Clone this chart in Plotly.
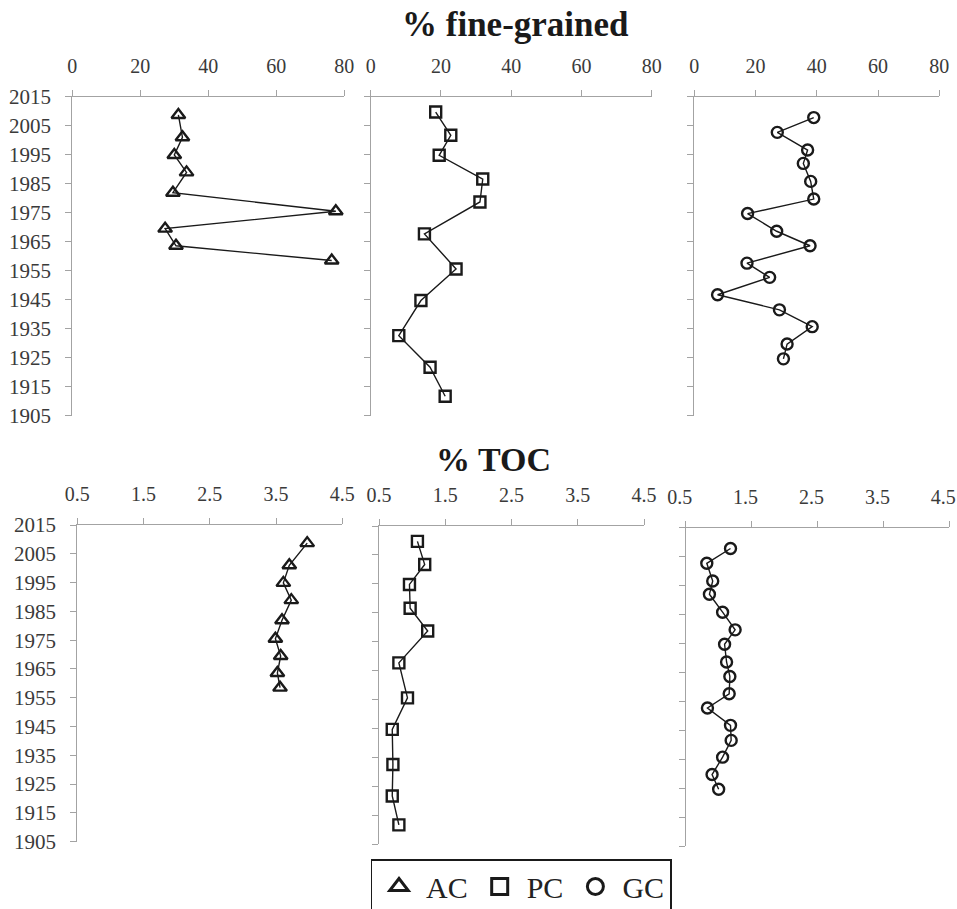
import plotly.graph_objects as go

# ---- data -------------------------------------------------------------
years_ac = [2008.7, 2001.0, 1994.9, 1988.9, 1981.9, 1975.5, 1969.5, 1963.6, 1958.5]
fine_ac = [31.2, 32.4, 30.0, 33.6, 29.6, 77.5, 27.3, 30.5, 76.3]
toc_ac = [3.97, 3.70, 3.61, 3.73, 3.59, 3.49, 3.57, 3.52, 3.56]

years_pc = [2009.7, 2001.7, 1994.8, 1986.6, 1978.7, 1967.7, 1955.6, 1944.7, 1932.6, 1921.7, 1911.7]
fine_pc = [18.5, 22.8, 19.5, 31.9, 31.1, 15.3, 24.3, 14.3, 8.0, 16.9, 21.2]
toc_pc = [1.08, 1.19, 0.96, 0.97, 1.235, 0.80, 0.93, 0.70, 0.71, 0.70, 0.80]

years_gc = [2007.8, 2002.7, 1996.6, 1992.0, 1985.8, 1979.7, 1974.7, 1968.6, 1963.6,
            1957.6, 1952.7, 1946.7, 1941.5, 1935.7, 1929.7, 1924.6]
fine_gc = [39.0, 27.1, 37.0, 35.6, 38.0, 39.0, 17.4, 26.9, 37.8, 17.2, 24.6, 7.6,
           27.8, 38.5, 30.3, 29.1]
toc_gc = [1.18, 0.82, 0.91, 0.86, 1.06, 1.25, 1.09, 1.12, 1.17, 1.16, 0.83, 1.18,
          1.19, 1.06, 0.90, 1.00]

year_ticks = list(range(1905, 2016, 10))
fine_ticks = [0, 20, 40, 60, 80]
toc_ticks = [0.5, 1.5, 2.5, 3.5, 4.5]

# ---- layout geometry (pixels) -----------------------------------------
W, H = 957, 909
FONT = "Liberation Serif"
AXIS_GREY = "#a3a3a3"
TICK_TEXT = "#3a3a3a"
INK = "#1a1a1a"

# (x0, x1, y_top, y_bottom) for each panel
panels = {
    "fine_ac": (72.3, 344.3, 96.7, 415.7),
    "fine_pc": (370.7, 651.7, 96.7, 415.7),
    "fine_gc": (694.3, 939.3, 96.7, 415.7),
    "toc_ac": (77.3, 342.3, 525.0, 841.7),
    "toc_pc": (379.0, 644.0, 526.0, 844.3),
    "toc_gc": (685.7, 949.3, 527.7, 846.0),
}

series = [
    ("fine_ac", fine_ac, years_ac, "triangle-up-open", [0, 80], fine_ticks, True),
    ("fine_pc", fine_pc, years_pc, "square-open", [0, 80], fine_ticks, False),
    ("fine_gc", fine_gc, years_gc, "circle-open", [0, 80], fine_ticks, False),
    ("toc_ac", toc_ac, years_ac, "triangle-up-open", [0.5, 4.5], toc_ticks, True),
    ("toc_pc", toc_pc, years_pc, "square-open", [0.5, 4.5], toc_ticks, False),
    ("toc_gc", toc_gc, years_gc, "circle-open", [0.5, 4.5], toc_ticks, False),
]

fig = go.Figure()
layout_axes = {}

for i, (key, xs, ys, symbol, xrange, xticks, show_years) in enumerate(series, start=1):
    x0, x1, yt, yb = panels[key]
    xa = "xaxis" if i == 1 else f"xaxis{i}"
    ya = "yaxis" if i == 1 else f"yaxis{i}"
    xref = "x" if i == 1 else f"x{i}"
    yref = "y" if i == 1 else f"y{i}"
    msize = 12 if symbol.startswith("triangle") else 11
    # the right-most panel sits against the page edge: nudge its labels left
    shift = -6 if key == "toc_gc" else 0
    fig.add_trace(go.Scatter(
        x=xs, y=ys, mode="lines+markers", xaxis=xref, yaxis=yref,
        line=dict(color=INK, width=1.4),
        marker=dict(symbol=symbol, size=msize, color=INK,
                    line=dict(color=INK, width=2.4)),
        showlegend=False, hoverinfo="x+y",
    ))
    layout_axes[xa] = dict(
        domain=[x0 / W, x1 / W], anchor=yref, side="top", range=xrange,
        tickvals=xticks, ticktext=[f"{t:g}" for t in xticks], automargin=False,
        ticklabeloverflow="allow", ticklabelshift=shift,
        showgrid=False, zeroline=False, showline=True, linecolor=AXIS_GREY,
        linewidth=1, ticks="outside", ticklen=6, tickcolor=AXIS_GREY,
        tickfont=dict(family=FONT, size=20, color=TICK_TEXT), ticklabelstandoff=9,
    )
    layout_axes[ya] = dict(
        domain=[1 - yb / H, 1 - yt / H], anchor=xref, range=[1905, 2015],
        tickvals=year_ticks, showticklabels=show_years, automargin=False,
        ticklabeloverflow="allow",
        showgrid=False, zeroline=False, showline=True, linecolor=AXIS_GREY,
        linewidth=1, ticks="outside", ticklen=6, tickcolor=AXIS_GREY,
        tickfont=dict(family=FONT, size=21, color=TICK_TEXT), ticklabelstandoff=10,
    )

# legend entries (one per core)
for name, symbol in [("AC", "triangle-up-open"), ("PC", "square-open"), ("GC", "circle-open")]:
    fig.add_trace(go.Scatter(
        x=[None], y=[None], mode="markers", name=name,
        marker=dict(symbol=symbol, size=16, color=INK,
                    line=dict(color=INK, width=3)),
        showlegend=True,
    ))

fig.update_layout(
    width=W, height=H, autosize=False,
    margin=dict(l=0, r=0, t=0, b=0, pad=0, autoexpand=False),
    paper_bgcolor="white", plot_bgcolor="white",
    font=dict(family=FONT, color=INK),
    showlegend=True,
    legend=dict(
        orientation="h", x=521 / W, xanchor="center", y=1 - 859 / H, yanchor="top",
        bordercolor=INK, borderwidth=1.5, bgcolor="white", itemwidth=44,
        font=dict(family=FONT, size=30, color="#222222"), itemsizing="trace",
    ),
    annotations=[
        dict(text="<b>% fine-grained</b>", x=515 / W, y=1 - 25 / H, xref="paper",
             yref="paper", xanchor="center", yanchor="middle", showarrow=False,
             font=dict(family=FONT, size=35, color=INK)),
        dict(text="<b>% TOC</b>", x=493 / W, y=1 - 459 / H, xref="paper",
             yref="paper", xanchor="center", yanchor="middle", showarrow=False,
             font=dict(family=FONT, size=34, color=INK)),
    ],
    **layout_axes,
)

fig.write_html("out.html")
